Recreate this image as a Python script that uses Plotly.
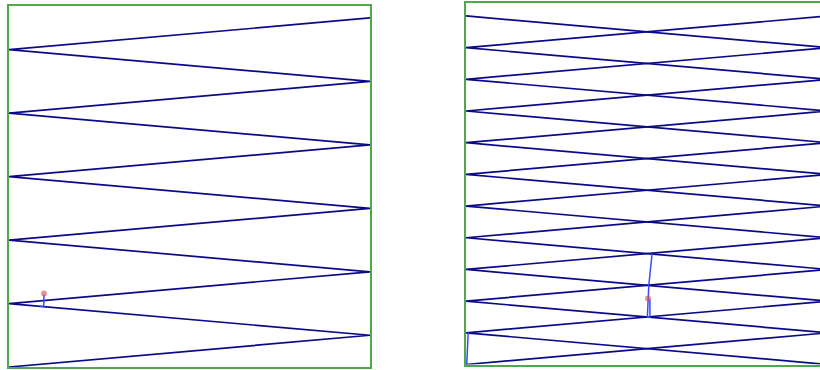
import plotly.graph_objects as go

# ---- data ----
# Left panel: single ray bouncing between the two walls (x=0 left, x=1 right)
left_ray_x = [1, 0, 1, 0, 1, 0, 1, 0, 1, 0, 1, 0]
left_ray_y = [11, 10, 9, 8, 7, 6, 5, 4, 3, 2, 1, 0]

# Right panel: two rays starting at opposite walls
right_ray_a_x = [0, 1, 0, 1, 0, 1, 0, 1, 0, 1, 0, 1]
right_ray_b_x = [1, 0, 1, 0, 1, 0, 1, 0, 1, 0, 1, 0]
right_ray_y = [11, 10, 9, 8, 7, 6, 5, 4, 3, 2, 1, 0]

# Short bright trails and the current positions
left_trail_x = [0.085, 0.096, 0.097]
left_trail_y = [1.915, 1.904, 2.28]
left_dot_x = [0.097]
left_dot_y = [2.32]

right_trail1_x = [0.514, 0.505, 0.501, 0.508, 0.508]
right_trail1_y = [3.5, 2.5, 1.5, 1.5, 2.05]
right_trail2_x = [0.004, 0.006, 0.002]
right_trail2_y = [0.99, 0.99, 0.0]
right_dot_x = [0.503]
right_dot_y = [2.08]

NAVY = "#0a0a88"
BLUE = "#3a4aff"
GREEN = "#4fa84a"
DOT = "rgba(205,80,80,0.6)"

fig = go.Figure()

fig.add_trace(go.Scatter(x=left_ray_x, y=left_ray_y, mode="lines",
                         line=dict(color=NAVY, width=1.7), xaxis="x", yaxis="y"))
fig.add_trace(go.Scatter(x=left_trail_x, y=left_trail_y, mode="lines",
                         line=dict(color=BLUE, width=1.5), xaxis="x", yaxis="y"))
fig.add_trace(go.Scatter(x=left_dot_x, y=left_dot_y, mode="markers",
                         marker=dict(color=DOT, size=6), xaxis="x", yaxis="y"))

fig.add_trace(go.Scatter(x=right_ray_a_x, y=right_ray_y, mode="lines",
                         line=dict(color=NAVY, width=1.7), xaxis="x2", yaxis="y2"))
fig.add_trace(go.Scatter(x=right_ray_b_x, y=right_ray_y, mode="lines",
                         line=dict(color=NAVY, width=1.7), xaxis="x2", yaxis="y2"))
fig.add_trace(go.Scatter(x=right_trail1_x, y=right_trail1_y, mode="lines",
                         line=dict(color=BLUE, width=1.5), xaxis="x2", yaxis="y2"))
fig.add_trace(go.Scatter(x=right_trail2_x, y=right_trail2_y, mode="lines",
                         line=dict(color=BLUE, width=1.5), xaxis="x2", yaxis="y2"))
fig.add_trace(go.Scatter(x=right_dot_x, y=right_dot_y, mode="markers",
                         marker=dict(color=DOT, size=6), xaxis="x2", yaxis="y2"))

W, H = 820, 370
ax_common = dict(showgrid=False, zeroline=False, showticklabels=False, ticks="",
                 showline=True, linecolor=GREEN, linewidth=2, fixedrange=True)

fig.update_layout(
    width=W, height=H,
    margin=dict(l=0, r=0, t=0, b=0),
    paper_bgcolor="white", plot_bgcolor="white",
    showlegend=False,
    xaxis=dict(domain=[9 / W, 370 / W], range=[0, 1], mirror=True, anchor="y", **ax_common),
    yaxis=dict(domain=[1 - 367 / H, 1 - 6 / H], range=[0.0, 11.377], mirror=True, anchor="x", **ax_common),
    xaxis2=dict(domain=[466 / W, 1], range=[0, 354 / 362], mirror=True, anchor="y2", **ax_common),
    yaxis2=dict(domain=[1 - 364.5 / H, 1 - 3 / H], range=[0.0, 11.409], mirror=False, anchor="x2", **ax_common),
)

fig.write_html("out.html", config={"displayModeBar": False},
               post_script="document.body.style.margin='0';document.body.style.overflow='hidden';")
